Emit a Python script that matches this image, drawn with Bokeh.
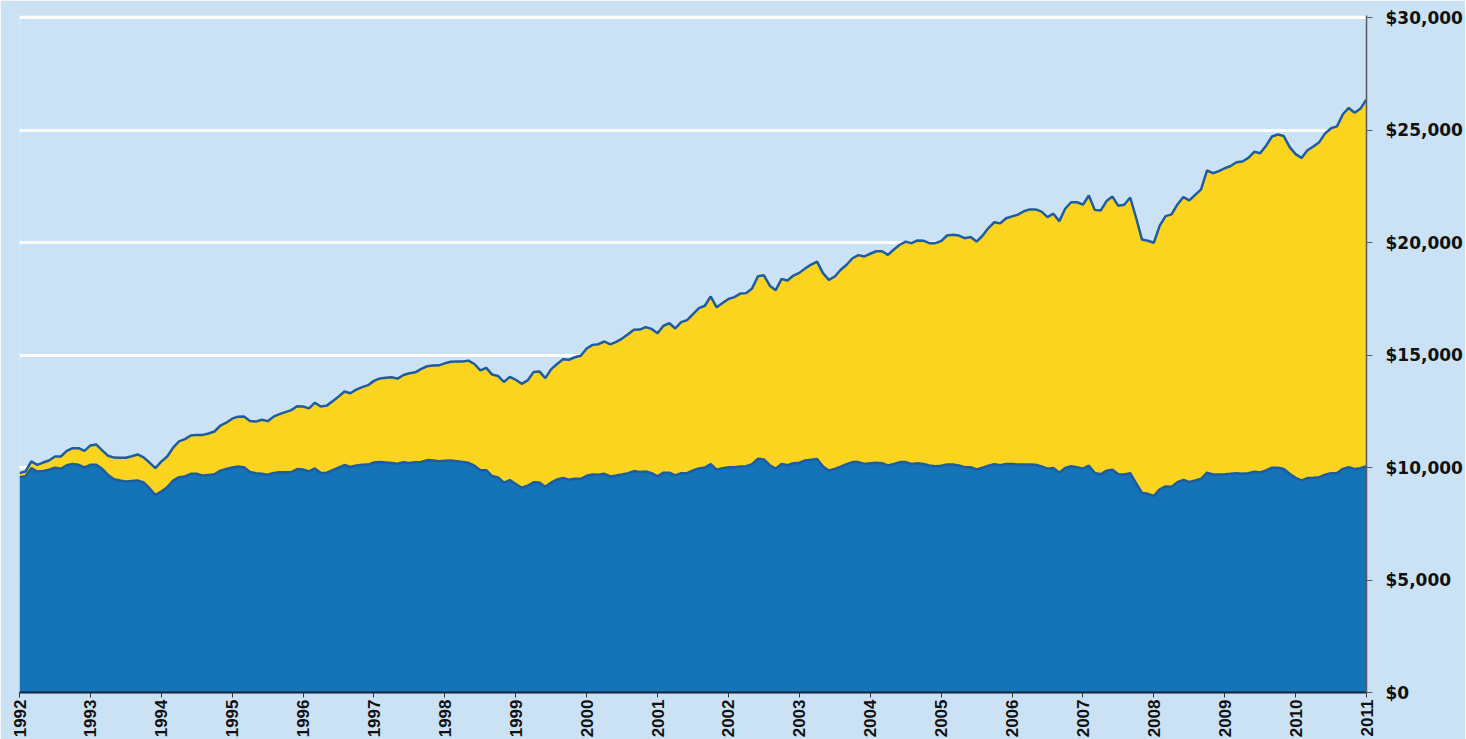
import pandas as pd
from bokeh.plotting import figure
from bokeh.models import FixedTicker, NumeralTickFormatter, Range1d
from bokeh.embed import file_html
from bokeh.resources import INLINE

# ---- data (monthly, Jan 1992 .. Jan 2011), US dollars ----
years = list(range(1992, 2012))
y_ticks = [0, 5000, 10000, 15000, 20000, 25000, 30000]

top_values = [
    # 1992
    9750, 9820, 10270, 10120, 10220, 10310, 10490, 10490, 10740, 10860, 10860, 10740,
    # 1993
    10980, 11020, 10760, 10520, 10440, 10430, 10430, 10500, 10580, 10450, 10220, 9970,
    # 1994
    10260, 10490, 10880, 11160, 11260, 11420, 11450, 11450, 11510, 11600, 11860, 11990,
    # 1995
    12170, 12260, 12270, 12070, 12040, 12120, 12060, 12260, 12370, 12460, 12550, 12720,
    # 1996
    12710, 12630, 12880, 12710, 12750, 12940, 13150, 13380, 13300, 13460, 13570, 13660,
    # 1997
    13850, 13960, 13990, 14010, 13950, 14110, 14190, 14230, 14380, 14500, 14530, 14540,
    # 1998
    14630, 14700, 14710, 14710, 14750, 14600, 14320, 14430, 14130, 14070, 13800, 14030,
    # 1999
    13900, 13720, 13870, 14240, 14270, 13970, 14370, 14600, 14810, 14790, 14900, 14970,
    # 2000
    15290, 15450, 15480, 15600, 15470, 15580, 15730, 15920, 16120, 16130, 16240, 16160,
    # 2001
    15970, 16300, 16410, 16180, 16460, 16550, 16820, 17080, 17190, 17600, 17120, 17310,
    # 2002
    17490, 17570, 17730, 17750, 17960, 18500, 18540, 18080, 17880, 18380, 18310, 18530,
    # 2003
    18650, 18850, 19020, 19150, 18640, 18340, 18490, 18790, 19010, 19300, 19440, 19380,
    # 2004
    19500, 19610, 19610, 19450, 19690, 19900, 20040, 19970, 20090, 20080, 19970, 19970,
    # 2005
    20060, 20310, 20340, 20310, 20190, 20240, 20040, 20300, 20640, 20900, 20850, 21080,
    # 2006
    21160, 21240, 21390, 21470, 21470, 21370, 21130, 21280, 20950, 21500, 21790, 21790,
    # 2007
    21680, 22090, 21450, 21420, 21840, 22040, 21630, 21680, 22000, 21100, 20130, 20080,
    # 2008
    19990, 20750, 21170, 21250, 21690, 22020, 21870, 22120, 22360, 23200, 23080, 23170,
    # 2009
    23300, 23400, 23570, 23600, 23760, 24030, 23970, 24300, 24710, 24800, 24730, 24240,
    # 2010
    23930, 23760, 24100, 24270, 24460, 24850, 25080, 25160, 25700, 25980, 25770, 25960,
    # 2011
    26360,
]

bottom_values = [
    # 1992
    9570, 9610, 9970, 9820, 9850, 9900, 9990, 9940, 10100, 10160, 10120, 10000,
    # 1993
    10120, 10120, 9940, 9660, 9480, 9420, 9380, 9400, 9420, 9340, 9080, 8780,
    # 1994
    8930, 9120, 9420, 9570, 9600, 9720, 9720, 9640, 9670, 9700, 9860, 9930,
    # 1995
    10000, 10040, 10010, 9800, 9750, 9720, 9680, 9760, 9790, 9790, 9800, 9930,
    # 1996
    9910, 9830, 9960, 9760, 9770, 9880, 9990, 10110, 10020, 10090, 10120, 10130,
    # 1997
    10220, 10240, 10220, 10200, 10170, 10230, 10200, 10230, 10250, 10330, 10310, 10280,
    # 1998
    10300, 10310, 10280, 10250, 10210, 10080, 9880, 9880, 9620, 9560, 9330, 9440,
    # 1999
    9270, 9100, 9190, 9340, 9330, 9140, 9330, 9470, 9530, 9460, 9500, 9500,
    # 2000
    9630, 9690, 9680, 9720, 9600, 9640, 9690, 9750, 9840, 9800, 9820, 9750,
    # 2001
    9610, 9770, 9770, 9650, 9750, 9750, 9870, 9960, 10000, 10150, 9900, 9970,
    # 2002
    10010, 10010, 10050, 10060, 10150, 10390, 10360, 10100, 9950, 10160, 10100, 10190,
    # 2003
    10210, 10310, 10340, 10380, 10040, 9870, 9940, 10040, 10150, 10240, 10240, 10160,
    # 2004
    10190, 10210, 10190, 10090, 10160, 10240, 10240, 10160, 10190, 10160, 10090, 10060,
    # 2005
    10080, 10130, 10130, 10090, 10010, 10010, 9910, 9990, 10080, 10150, 10100, 10160,
    # 2006
    10160, 10130, 10130, 10130, 10120, 10050, 9950, 9980, 9770, 9980, 10060, 10010,
    # 2007
    9950, 10080, 9760, 9700, 9860, 9900, 9700, 9690, 9750, 9300, 8870, 8830,
    # 2008
    8740, 9030, 9160, 9150, 9350, 9450, 9360, 9420, 9500, 9770, 9690, 9690,
    # 2009
    9700, 9720, 9750, 9720, 9750, 9810, 9780, 9870, 9990, 9990, 9930, 9720,
    # 2010
    9540, 9430, 9530, 9540, 9570, 9680, 9750, 9750, 9940, 10010, 9930, 9970,
    # 2011
    10060,
]

# monthly dates -> decimal years for the numeric x axis
dates = pd.date_range("1992-01-01", periods=len(top_values), freq="MS")
x = [d.year + (d.month - 1) / 12 for d in dates]

BG = "#cbe2f5"
YELLOW = "#fbd420"
BLUE = "#1573b8"
LINE = "#1d5d9f"

p = figure(
    frame_width=1347, frame_height=677,
    min_border_left=19, min_border_top=15, min_border_right=0, min_border_bottom=0,
    x_range=Range1d(1992, 2011), y_range=Range1d(0, 30089),
    y_axis_location="right",
    output_backend="svg", toolbar_location=None,
    background_fill_color=BG, border_fill_color=BG,
)
p.outline_line_color = None

p.varea(x=x, y1=0, y2=top_values, fill_color=YELLOW)
p.varea(x=x, y1=0, y2=bottom_values, fill_color=BLUE)
p.line(x=x, y=top_values, line_color=LINE, line_width=2.5)
p.line(x=x, y=bottom_values, line_color=LINE, line_width=2.5)

# grid
p.xgrid.grid_line_color = None
p.ygrid.ticker = FixedTicker(ticks=y_ticks)
p.ygrid.grid_line_color = "white"
p.ygrid.grid_line_width = 3

# y axis (right)
ya = p.yaxis[0]
ya.ticker = FixedTicker(ticks=y_ticks)
ya.formatter = NumeralTickFormatter(format="$0,0")
ya.axis_line_color = "#555a66"
ya.axis_line_width = 1.5
ya.major_tick_line_color = "#555a66"
ya.major_tick_out = 6
ya.major_tick_in = 0
ya.minor_tick_line_color = None
ya.major_label_standoff = 13
ya.major_label_text_font = "DejaVu Sans"
ya.major_label_text_font_style = "bold"
ya.major_label_text_font_size = "17px"
ya.major_label_text_color = "#111111"

# x axis (bottom)
xa = p.xaxis[0]
xa.ticker = FixedTicker(ticks=years)
xa.major_label_overrides = {yy: str(yy) for yy in years}
xa.major_label_orientation = 3.14159265 / 2
xa.axis_line_color = "#12233f"
xa.axis_line_width = 2
xa.major_tick_line_color = "#333333"
xa.major_tick_out = 5
xa.major_tick_in = 0
xa.minor_tick_line_color = None
xa.major_label_standoff = 2
xa.major_label_text_font = "Liberation Sans"
xa.major_label_text_font_style = "bold"
xa.major_label_text_font_size = "17px"
xa.major_label_text_color = "#111111"

html = file_html(p, INLINE)
html = html.replace("<body>", '<body style="background-color:%s;">' % BG, 1)
open("out.html", "w").write(html)
